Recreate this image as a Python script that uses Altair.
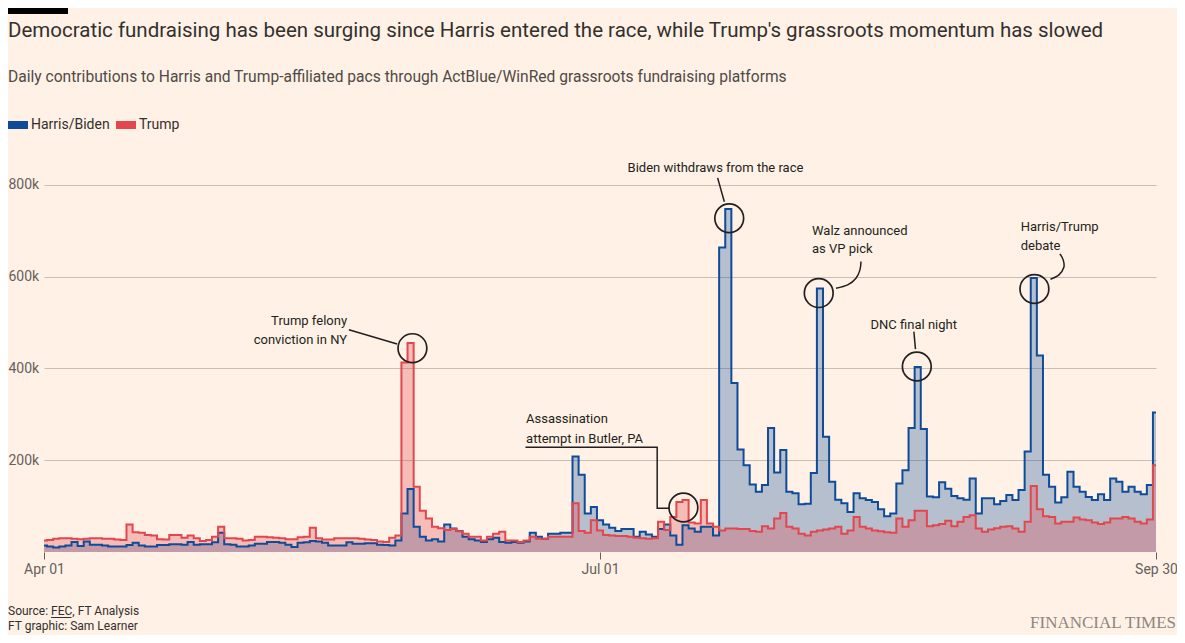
import altair as alt
import pandas as pd

START, END = "2024-04-01", "2024-09-30"

# Daily contributions, thousands of dollars
harris_k = [
    14, 12, 10, 12, 14, 22, 13, 23, 16, 16,
    14, 12, 12, 12, 15, 20, 14, 12, 12, 15,
    15, 17, 17, 16, 22, 16, 17, 17, 21, 42,
    17, 16, 12, 12, 14, 18, 18, 22, 22, 20,
    16, 11, 20, 21, 24, 23, 20, 14, 14, 14,
    21, 18, 18, 19, 19, 16, 15, 14, 25, 84,
    137, 55, 33, 25, 28, 23, 60, 51, 46, 33,
    28, 25, 22, 28, 31, 22, 20, 22, 20, 23,
    42, 33, 29, 40, 40, 42, 42, 208, 168, 84,
    98, 69, 60, 53, 46, 50, 50, 33, 44, 38,
    33, 50, 60, 36, 16, 58, 51, 44, 55, 55,
    36, 663, 747, 368, 223, 189, 147, 131, 146, 270,
    173, 222, 131, 128, 104, 105, 172, 574, 251, 153,
    114, 106, 87, 128, 117, 113, 109, 93, 78, 84,
    149, 178, 270, 403, 268, 121, 119, 152, 138, 122,
    117, 114, 160, 84, 117, 117, 104, 111, 124, 113,
    135, 219, 597, 428, 168, 142, 108, 119, 175, 142,
    131, 120, 113, 126, 113, 160, 153, 131, 142, 131,
    126, 146, 304,
]
trump_k = [
    25, 26, 29, 30, 30, 29, 28, 29, 30, 30,
    29, 29, 27, 26, 60, 43, 42, 37, 36, 28,
    27, 37, 37, 31, 36, 30, 24, 26, 33, 55,
    30, 30, 29, 25, 26, 33, 33, 32, 31, 30,
    28, 28, 32, 33, 53, 30, 27, 27, 30, 30,
    30, 30, 29, 27, 26, 23, 22, 31, 36, 413,
    455, 142, 90, 73, 55, 52, 48, 50, 45, 40,
    33, 33, 25, 33, 40, 44, 25, 25, 22, 25,
    33, 29, 29, 33, 33, 33, 33, 106, 46, 42,
    69, 47, 37, 36, 35, 35, 33, 31, 30, 29,
    30, 66, 48, 76, 109, 113, 64, 62, 113, 62,
    55, 47, 51, 51, 50, 50, 46, 44, 56, 51,
    73, 85, 55, 51, 40, 36, 44, 47, 49, 51,
    55, 40, 47, 76, 55, 51, 47, 45, 43, 42,
    73, 55, 69, 90, 90, 56, 58, 61, 68, 56,
    66, 76, 80, 51, 44, 49, 52, 55, 56, 51,
    44, 66, 144, 93, 78, 76, 62, 66, 66, 75,
    71, 69, 64, 61, 64, 73, 73, 76, 73, 66,
    62, 71, 189,
]

series_names = ["Harris/Biden", "Trump"]
series_colors = ["#0E4C99", "#E2474E"]

x_tick_dates = [(2024, 4, 1), (2024, 7, 1), (2024, 9, 30)]
y_tick_values = [200000, 400000, 600000, 800000]

# Annotations: x in days after Apr 01, y in thousands of dollars
note_text = ["Trump felony", "conviction in NY", "Biden withdraws from the race",
             "Walz announced", "as VP pick", "DNC final night",
             "Harris/Trump", "debate", "Assassination", "attempt in Butler, PA"]
note_day = [49.6, 49.6, 109.9, 125.7, 125.7, 142.35, 159.85, 159.85, 78.9, 78.9]
note_k = [504, 461, 837, 700, 660, 494, 709, 667, 289, 247]
note_align = ["right", "right", "center", "left", "left", "center",
              "left", "left", "left", "left"]

circle_day = [60.3, 112.15, 126.8, 142.85, 162.1, 104.65]
circle_k = [444, 727, 564, 404, 573, 97]

leader_group = ["trump", "trump", "biden", "biden", "dnc", "dnc",
                "butler", "butler", "butler", "butler"]
leader_day = [49.9, 57.8, 110.25, 111.35, 142.37, 142.63,
              78.8, 100.36, 100.36, 102.37]
leader_k = [484, 453, 815, 763, 480, 442, 228.4, 228.4, 95.3, 95.3]

curve_group = ["walz"] * 5 + ["debate"] * 5
curve_day = [129.63, 131.54, 132.90, 133.55, 133.71,
             164.73, 166.11, 166.92, 166.81, 166.27]
curve_k = [574.6, 581.8, 596.4, 614.5, 632.6,
           594.2, 603.6, 620.4, 636.3, 649.4]

# ---------------------------------------------------------------- tables
dates = pd.date_range(START, END, freq="D")
n = len(dates)
assert n == len(harris_k) == len(trump_k)
df = pd.DataFrame({
    "date": list(dates.strftime("%Y-%m-%d")) * 2,
    "series": [series_names[0]] * n + [series_names[1]] * n,
    "amount": [v * 1000 for v in harris_k] + [v * 1000 for v in trump_k],
})

t0 = pd.Timestamp(START)


def when(day):
    return (t0 + pd.Timedelta(days=day)).strftime("%Y-%m-%dT%H:%M:%SZ")


notes = pd.DataFrame({
    "label": note_text,
    "date": [when(d) for d in note_day],
    "amount": [v * 1000 for v in note_k],
    "align": note_align,
})
circles = pd.DataFrame({
    "date": [when(d) for d in circle_day],
    "amount": [v * 1000 for v in circle_k],
})
leaders = pd.DataFrame({
    "group": leader_group,
    "seq": list(range(len(leader_group))),
    "date": [when(d) for d in leader_day],
    "amount": [v * 1000 for v in leader_k],
})
curves = pd.DataFrame({
    "group": curve_group,
    "seq": list(range(len(curve_group))),
    "date": [when(d) for d in curve_day],
    "amount": [v * 1000 for v in curve_k],
})

# ---------------------------------------------------------------- scales
INK = "#231F20"
GREY = "#66605C"


def dt(t):
    return alt.DateTime(year=t[0], month=t[1], date=t[2], utc=True)


x_scale = alt.Scale(type="utc", domain=[dt(x_tick_dates[0]), dt(x_tick_dates[-1])])
y_scale = alt.Scale(domain=[0, 880000], nice=False, zero=True)

x_axis = alt.Axis(values=[dt(t) for t in x_tick_dates], format="%b %d", title=None,
                  domain=False, grid=False, ticks=True, tickSize=7, tickColor=GREY,
                  tickWidth=1, labelFontSize=14, labelColor=GREY, labelPadding=3,
                  labelFlush=False, labelOverlap=False)
y_axis = alt.Axis(values=y_tick_values, labelExpr="datum.value / 1000 + 'k'", title=None,
                  domain=False, ticks=False, tickSize=0, grid=True, gridColor="#C9BEB4",
                  gridWidth=1, labelAlign="left", labelBaseline="middle",
                  labelPadding=36, labelFontSize=14, labelColor=GREY)


def X():
    return alt.X("date:T", scale=x_scale, axis=x_axis)


def Y():
    return alt.Y("amount:Q", scale=y_scale, axis=y_axis, stack=None)


legend = alt.Legend(title=None, orient="none", legendX=-36, legendY=-33,
                    direction="horizontal", symbolType="M-1,-0.4H1V0.4H-1Z",
                    symbolSize=400, symbolStrokeWidth=0, symbolOpacity=1,
                    labelFontSize=14, labelColor="#33302E", labelOffset=3,
                    columnPadding=6, padding=0)

area = alt.Chart(df).mark_area(interpolate="step", fillOpacity=0.3).encode(
    x=X(), y=Y(),
    color=alt.Color("series:N", scale=alt.Scale(domain=series_names, range=series_colors),
                    legend=legend),
)
lines = alt.Chart(df).mark_line(interpolate="step", strokeWidth=2).encode(
    x=X(), y=Y(),
    stroke=alt.Stroke("series:N", scale=alt.Scale(domain=series_names, range=series_colors),
                      legend=None),
)

rings = alt.Chart(circles).mark_point(shape="circle", filled=False, size=830,
                                      color=INK, strokeWidth=1.7, opacity=1).encode(x=X(), y=Y())

straight = alt.Chart(leaders).mark_line(color=INK, strokeWidth=1.5).encode(
    x=X(), y=Y(), detail="group:N", order="seq:Q")
curved = alt.Chart(curves).mark_line(color=INK, strokeWidth=1.5, interpolate="cardinal").encode(
    x=X(), y=Y(), detail="group:N", order="seq:Q")

note_layers = [
    alt.Chart(notes).transform_filter(alt.datum.align == a).mark_text(
        align=a, baseline="middle", fontSize=13, color=INK).encode(
        x=X(), y=Y(), text="label:N")
    for a in ["left", "center", "right"]
]


def deco_text(text, x, y, size, color, align="left", font="Roboto", weight="normal"):
    return alt.Chart(pd.DataFrame({"t": [text]})).mark_text(
        align=align, baseline="alphabetic", fontSize=size, color=color, font=font,
        fontWeight=weight).encode(x=alt.value(x), y=alt.value(y), text="t:N")


one = pd.DataFrame({"k": [0]})
top_bar = alt.Chart(one).mark_rect(color="#000000").encode(
    x=alt.value(-36), x2=alt.value(24), y=alt.value(-140), y2=alt.value(-134))
fec_line = alt.Chart(one).mark_rule(color="#33302E", strokeWidth=1).encode(
    x=alt.value(7), x2=alt.value(27.5), y=alt.value(469.5))

title = deco_text("Democratic fundraising has been surging since Harris entered the race, "
                  "while Trump's grassroots momentum has slowed", -36, -111.3, 20.5, "#33302E")
subtitle = deco_text("Daily contributions to Harris and Trump-affiliated pacs through "
                     "ActBlue/WinRed grassroots fundraising platforms", -36, -66.3, 15.6, "#4F4A46")
source = deco_text("Source: FEC, FT Analysis", -36, 467, 12, "#33302E")
credit = deco_text("FT graphic: Sam Learner", -36, 482, 12, "#33302E")
logo = deco_text("FINANCIAL TIMES", 1132, 480, 17, "#8E8680", align="right",
                 font="Liberation Serif")

chart = alt.layer(
    area, lines, straight, curved, rings, *note_layers,
    top_bar, title, subtitle, source, fec_line, credit, logo,
).properties(
    width=1112, height=404,
    autosize=alt.AutoSizeParams(type="none"),
    padding={"left": 36, "top": 140, "right": 21, "bottom": 83},
).configure(
    background="#FFF1E5", font="Roboto",
).configure_view(stroke=None)

chart.save("out.html", embed_options={"renderer": "svg", "actions": False})
